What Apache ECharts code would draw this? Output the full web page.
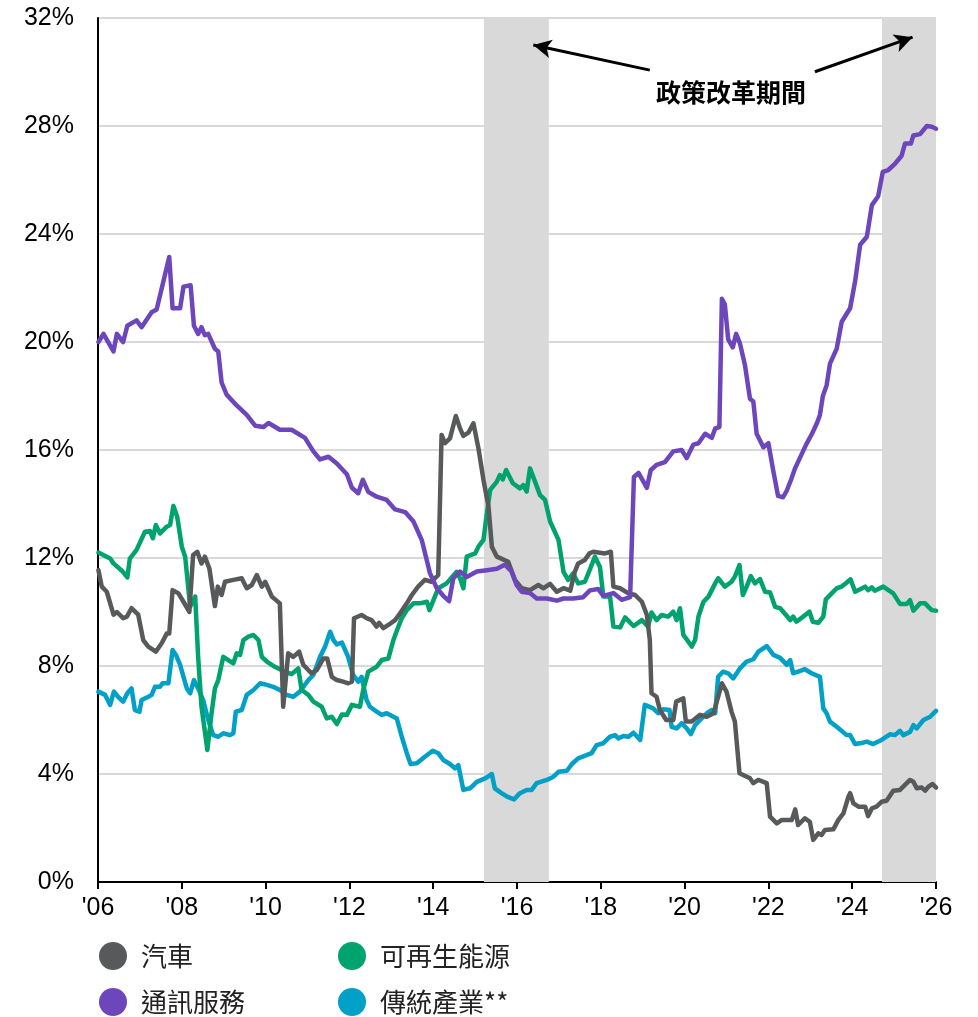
<!DOCTYPE html>
<html><head><meta charset="utf-8">
<script src="https://cdn.jsdelivr.net/npm/echarts@6/dist/echarts.min.js"></script>
<style>html,body{margin:0;padding:0;background:#fff}#c{width:978px;height:1017px}</style>
</head><body><div id="c"></div>
<script>
const seriesNames = ['汽車', '可再生能源', '通訊服務', '傳統產業**'];
const yTicks = [0, 4, 8, 12, 16, 20, 24, 28, 32];
const xTicks = [2006, 2008, 2010, 2012, 2014, 2016, 2018, 2020, 2022, 2024, 2026];
const policyPeriods = [[2015.21, 2016.76], [2024.71, 2026.0]];
const annotationText = '政策改革期間';

const autos = [[2006.01,11.55],[2006.09,10.94],[2006.21,10.75],[2006.37,9.9],[2006.45,10.0],[2006.60,9.77],[2006.69,9.83],[2006.80,10.14],[2006.96,9.9],[2007.08,8.96],[2007.20,8.72],[2007.38,8.53],[2007.52,8.84],[2007.64,9.2],[2007.70,9.2],[2007.78,10.81],[2007.92,10.69],[2008.04,10.38],[2008.18,10.0],[2008.27,12.11],[2008.37,12.23],[2008.47,11.8],[2008.55,12.05],[2008.66,11.6],[2008.79,10.22],[2008.86,10.94],[2008.95,10.63],[2009.03,11.12],[2009.23,11.19],[2009.43,11.25],[2009.55,10.88],[2009.67,11.0],[2009.79,11.37],[2009.91,10.94],[2009.99,11.12],[2010.15,10.57],[2010.34,10.32],[2010.42,6.49],[2010.54,8.47],[2010.66,8.34],[2010.80,8.53],[2010.90,8.04],[2011.02,7.85],[2011.10,7.73],[2011.22,7.85],[2011.38,8.28],[2011.47,8.28],[2011.58,7.6],[2011.70,7.48],[2011.85,7.42],[2011.97,7.36],[2012.06,7.42],[2012.11,9.77],[2012.29,9.89],[2012.41,9.77],[2012.53,9.7],[2012.65,9.46],[2012.71,9.6],[2012.81,9.4],[2012.93,9.52],[2013.09,9.7],[2013.21,9.95],[2013.37,10.32],[2013.49,10.63],[2013.64,10.94],[2013.80,11.19],[2013.96,11.12],[2014.12,11.37],[2014.16,11.31],[2014.20,16.56],[2014.28,16.25],[2014.40,16.43],[2014.54,17.26],[2014.64,16.8],[2014.72,16.52],[2014.84,16.64],[2014.96,16.99],[2015.08,16.06],[2015.20,14.89],[2015.32,13.9],[2015.40,12.42],[2015.52,12.05],[2015.79,11.86],[2015.95,11.19],[2016.11,10.88],[2016.31,10.81],[2016.51,11.0],[2016.63,10.88],[2016.79,11.04],[2016.95,10.75],[2017.11,10.88],[2017.27,10.79],[2017.38,11.49],[2017.46,11.8],[2017.62,11.93],[2017.73,12.17],[2017.82,12.23],[2018.10,12.17],[2018.24,12.23],[2018.30,10.94],[2018.46,10.88],[2018.66,10.69],[2018.82,10.63],[2018.98,10.38],[2019.10,9.89],[2019.17,8.96],[2019.21,6.99],[2019.33,6.86],[2019.41,6.37],[2019.56,6.0],[2019.73,6.0],[2019.80,6.68],[2019.97,6.8],[2020.03,5.94],[2020.17,5.94],[2020.37,6.19],[2020.53,6.12],[2020.69,6.25],[2020.89,7.36],[2021.00,7.05],[2021.12,6.31],[2021.20,5.94],[2021.31,4.03],[2021.56,3.84],[2021.64,3.66],[2021.76,3.78],[2021.96,3.66],[2022.04,2.42],[2022.20,2.17],[2022.32,2.3],[2022.56,2.3],[2022.64,2.69],[2022.71,2.11],[2022.87,2.36],[2022.99,2.23],[2023.07,1.56],[2023.19,1.8],[2023.27,1.74],[2023.35,1.93],[2023.55,1.95],[2023.67,2.3],[2023.79,2.54],[2023.91,3.16],[2023.95,3.29],[2024.03,2.91],[2024.15,2.79],[2024.31,2.79],[2024.38,2.44],[2024.47,2.73],[2024.58,2.79],[2024.70,2.97],[2024.82,3.01],[2024.98,3.38],[2025.14,3.41],[2025.38,3.78],[2025.46,3.71],[2025.54,3.47],[2025.66,3.5],[2025.74,3.38],[2025.82,3.53],[2025.92,3.63],[2026.00,3.5]];

const renewables = [[2006.01,12.2],[2006.29,11.98],[2006.37,11.8],[2006.57,11.53],[2006.70,11.28],[2006.76,11.98],[2006.92,12.3],[2007.12,12.97],[2007.24,13.0],[2007.31,12.73],[2007.38,13.22],[2007.48,12.91],[2007.64,13.16],[2007.72,13.22],[2007.80,13.93],[2007.89,13.53],[2008.00,12.42],[2008.08,12.05],[2008.20,10.19],[2008.32,10.57],[2008.39,8.34],[2008.47,6.49],[2008.61,4.89],[2008.71,6.25],[2008.79,7.17],[2008.87,7.48],[2008.99,8.34],[2009.11,8.22],[2009.23,8.1],[2009.31,8.47],[2009.39,8.41],[2009.47,8.96],[2009.59,9.09],[2009.71,9.15],[2009.83,8.96],[2009.91,8.34],[2010.03,8.16],[2010.22,7.97],[2010.46,7.79],[2010.62,7.7],[2010.78,7.91],[2010.86,7.11],[2011.02,6.93],[2011.14,6.68],[2011.34,6.49],[2011.46,6.06],[2011.58,6.12],[2011.70,5.85],[2011.82,6.2],[2011.94,6.19],[2012.06,6.56],[2012.25,6.49],[2012.33,7.11],[2012.45,7.79],[2012.65,7.97],[2012.77,8.22],[2012.93,8.28],[2013.05,8.96],[2013.17,9.46],[2013.25,9.77],[2013.37,10.07],[2013.53,10.32],[2013.68,10.32],[2013.85,10.38],[2013.91,10.07],[2014.04,10.57],[2014.12,10.88],[2014.32,11.06],[2014.56,11.49],[2014.64,11.25],[2014.72,10.88],[2014.80,12.05],[2015.00,12.17],[2015.08,12.42],[2015.20,12.67],[2015.28,13.65],[2015.36,14.52],[2015.52,14.83],[2015.59,15.07],[2015.66,14.91],[2015.74,15.26],[2015.90,14.77],[2016.07,14.58],[2016.15,14.7],[2016.23,14.46],[2016.31,15.32],[2016.43,14.83],[2016.55,14.33],[2016.67,14.15],[2016.79,13.35],[2016.99,12.67],[2017.11,11.49],[2017.22,11.19],[2017.34,11.43],[2017.46,11.06],[2017.62,11.12],[2017.72,11.5],[2017.86,12.05],[2017.98,11.67],[2018.06,10.57],[2018.22,10.57],[2018.30,9.46],[2018.46,9.43],[2018.58,9.8],[2018.78,9.48],[2018.98,9.7],[2019.13,9.46],[2019.21,9.98],[2019.33,9.7],[2019.45,9.89],[2019.61,9.83],[2019.73,10.01],[2019.81,9.7],[2019.89,10.14],[2019.97,9.15],[2020.09,8.9],[2020.17,8.72],[2020.25,8.96],[2020.33,9.83],[2020.45,10.38],[2020.57,10.57],[2020.73,11.06],[2020.80,11.25],[2020.96,10.94],[2021.12,11.12],[2021.20,11.31],[2021.31,11.74],[2021.39,10.63],[2021.48,10.94],[2021.58,11.33],[2021.68,11.06],[2021.80,11.22],[2021.92,10.75],[2022.04,10.72],[2022.16,10.19],[2022.28,10.14],[2022.44,9.85],[2022.52,9.7],[2022.59,9.83],[2022.67,9.64],[2022.83,9.83],[2022.98,10.01],[2023.06,9.64],[2023.19,9.6],[2023.31,9.83],[2023.37,10.47],[2023.51,10.69],[2023.63,10.88],[2023.75,10.94],[2023.87,11.09],[2023.96,11.21],[2024.07,10.75],[2024.19,10.84],[2024.31,10.94],[2024.38,10.81],[2024.47,10.91],[2024.54,10.79],[2024.74,10.94],[2024.98,10.69],[2025.14,10.3],[2025.30,10.3],[2025.38,10.44],[2025.46,10.05],[2025.62,10.32],[2025.74,10.32],[2025.82,10.19],[2025.90,10.07],[2026.00,10.05]];

const telecom = [[2006.01,20.0],[2006.13,20.3],[2006.37,19.65],[2006.45,20.3],[2006.60,20.0],[2006.70,20.6],[2006.92,20.8],[2007.04,20.55],[2007.28,21.1],[2007.40,21.2],[2007.70,23.15],[2007.78,21.25],[2007.96,21.25],[2008.04,22.05],[2008.21,22.1],[2008.29,20.6],[2008.39,20.3],[2008.47,20.55],[2008.55,20.25],[2008.63,20.3],[2008.79,19.75],[2008.87,19.65],[2008.95,18.5],[2009.07,18.05],[2009.31,17.65],[2009.55,17.3],[2009.75,16.9],[2009.95,16.85],[2010.07,17.0],[2010.34,16.75],[2010.62,16.75],[2010.94,16.45],[2011.14,15.95],[2011.30,15.65],[2011.50,15.75],[2011.70,15.5],[2011.94,15.1],[2012.06,14.6],[2012.21,14.4],[2012.32,14.9],[2012.45,14.45],[2012.65,14.27],[2012.89,14.15],[2013.09,13.8],[2013.33,13.7],[2013.53,13.35],[2013.73,12.65],[2013.85,11.9],[2013.92,11.45],[2014.08,10.9],[2014.24,10.6],[2014.38,10.4],[2014.48,11.25],[2014.64,11.5],[2014.80,11.3],[2015.04,11.5],[2015.28,11.55],[2015.52,11.6],[2015.71,11.75],[2015.87,11.5],[2015.99,11.0],[2016.11,10.75],[2016.31,10.7],[2016.47,10.5],[2016.71,10.5],[2016.95,10.42],[2017.11,10.5],[2017.34,10.5],[2017.58,10.55],[2017.74,10.8],[2017.94,10.85],[2018.06,10.6],[2018.30,10.7],[2018.50,10.45],[2018.70,10.55],[2018.79,15.0],[2018.90,15.15],[2019.10,14.6],[2019.19,15.25],[2019.33,15.45],[2019.53,15.55],[2019.73,15.95],[2019.93,16.0],[2020.05,15.7],[2020.21,16.2],[2020.33,16.25],[2020.49,16.6],[2020.65,16.45],[2020.73,16.8],[2020.83,16.85],[2020.89,21.6],[2020.96,21.4],[2021.04,20.1],[2021.15,19.8],[2021.23,20.3],[2021.32,19.95],[2021.44,19.15],[2021.56,17.9],[2021.64,17.8],[2021.72,16.6],[2021.88,16.1],[2022.00,16.25],[2022.12,15.2],[2022.23,14.3],[2022.35,14.25],[2022.44,14.5],[2022.54,14.9],[2022.63,15.3],[2022.75,15.7],[2022.90,16.2],[2023.04,16.6],[2023.16,17.0],[2023.23,17.3],[2023.30,18.0],[2023.39,18.4],[2023.47,19.2],[2023.63,19.75],[2023.75,20.75],[2023.95,21.25],[2024.07,22.25],[2024.19,23.6],[2024.35,23.9],[2024.47,25.07],[2024.62,25.4],[2024.73,26.3],[2024.86,26.37],[2025.02,26.6],[2025.18,26.9],[2025.26,27.35],[2025.40,27.35],[2025.46,27.65],[2025.62,27.7],[2025.78,28.0],[2025.90,27.97],[2026.00,27.9]];

const traditional = [[2006.01,7.05],[2006.17,6.93],[2006.29,6.56],[2006.38,7.05],[2006.48,6.86],[2006.60,6.68],[2006.70,6.99],[2006.80,7.17],[2006.88,6.37],[2006.99,6.31],[2007.04,6.74],[2007.20,6.86],[2007.28,6.93],[2007.36,7.23],[2007.48,7.23],[2007.54,7.36],[2007.68,7.36],[2007.78,8.59],[2007.86,8.41],[2007.96,8.04],[2008.04,7.6],[2008.12,7.17],[2008.20,6.99],[2008.29,7.48],[2008.39,7.17],[2008.51,6.74],[2008.63,6.0],[2008.75,5.44],[2008.87,5.38],[2008.99,5.51],[2009.15,5.44],[2009.23,5.51],[2009.29,6.31],[2009.43,6.37],[2009.55,6.93],[2009.71,7.11],[2009.87,7.36],[2010.03,7.3],[2010.18,7.23],[2010.34,7.11],[2010.50,6.93],[2010.66,6.86],[2010.82,7.05],[2011.02,7.48],[2011.14,7.67],[2011.30,8.34],[2011.42,8.72],[2011.54,9.27],[2011.62,8.96],[2011.70,8.8],[2011.82,8.87],[2011.97,8.34],[2012.09,7.67],[2012.21,7.42],[2012.29,7.6],[2012.41,6.74],[2012.49,6.49],[2012.65,6.31],[2012.77,6.19],[2012.89,6.25],[2013.13,6.06],[2013.25,5.38],[2013.37,4.77],[2013.46,4.37],[2013.61,4.4],[2013.80,4.64],[2013.99,4.86],[2014.12,4.77],[2014.24,4.52],[2014.40,4.37],[2014.52,4.21],[2014.60,4.33],[2014.72,3.41],[2014.88,3.47],[2015.04,3.71],[2015.24,3.84],[2015.40,4.0],[2015.47,3.47],[2015.63,3.29],[2015.79,3.14],[2015.93,3.06],[2016.07,3.29],[2016.23,3.41],[2016.35,3.41],[2016.47,3.66],[2016.71,3.78],[2016.87,3.9],[2016.99,4.08],[2017.19,4.12],[2017.31,4.37],[2017.46,4.58],[2017.78,4.77],[2017.90,5.07],[2018.06,5.14],[2018.22,5.38],[2018.34,5.44],[2018.42,5.32],[2018.54,5.41],[2018.66,5.38],[2018.78,5.53],[2018.94,5.26],[2019.05,6.56],[2019.25,6.43],[2019.37,6.25],[2019.49,6.4],[2019.64,6.37],[2019.69,5.75],[2019.81,5.69],[2019.93,5.88],[2020.05,5.69],[2020.15,5.48],[2020.25,5.81],[2020.37,6.0],[2020.53,6.25],[2020.65,6.37],[2020.73,6.25],[2020.80,7.6],[2020.92,7.79],[2021.04,7.73],[2021.16,7.54],[2021.32,7.91],[2021.48,8.16],[2021.64,8.25],[2021.76,8.53],[2021.96,8.74],[2022.12,8.41],[2022.28,8.3],[2022.44,8.04],[2022.52,8.22],[2022.59,7.73],[2022.71,7.79],[2022.87,7.88],[2023.03,7.73],[2023.23,7.6],[2023.31,6.43],[2023.39,6.25],[2023.47,5.94],[2023.63,5.75],[2023.87,5.44],[2023.95,5.44],[2024.07,5.11],[2024.26,5.16],[2024.35,5.2],[2024.50,5.11],[2024.70,5.26],[2024.90,5.47],[2025.02,5.44],[2025.14,5.6],[2025.22,5.44],[2025.38,5.56],[2025.46,5.81],[2025.54,5.69],[2025.70,6.0],[2025.86,6.12],[2026.00,6.34]];

const arrowLeft = [[2019.17, 30.07], [2016.39, 31.0]];
const arrowRight = [[2023.11, 30.01], [2025.44, 31.29]];

const colors = { '汽車': '#58595b', '可再生能源': '#00a26e', '通訊服務': '#6e46bc', '傳統產業**': '#00a0c7' };
const FONT = '"Liberation Sans", Arial, "Noto Sans CJK TC", sans-serif';
const CJK = '"Noto Sans CJK TC", sans-serif';

const chart = echarts.init(document.getElementById('c'), null, { renderer: 'canvas' });

function lineSeries(name, data, z) {
  return {
    name, type: 'line', data, z,
    showSymbol: false, symbol: 'none',
    lineStyle: { width: 4.5, color: colors[name], join: 'round', cap: 'round' },
    itemStyle: { color: colors[name] },
    animation: false
  };
}

const legendSlots = [
  { name: seriesNames[0], left: 94, top: 937 },
  { name: seriesNames[2], left: 94, top: 983 },
  { name: seriesNames[1], left: 333, top: 937 },
  { name: seriesNames[3], left: 333, top: 983 }
];

const option = {
  animation: false,
  backgroundColor: '#fff',
  grid: { left: 98, right: 42, top: 18, bottom: 135, containLabel: false },
  xAxis: {
    type: 'value', min: 2006, max: 2026, interval: 2,
    axisLine: { show: true, onZero: false, lineStyle: { color: '#000', width: 2 } },
    axisTick: { show: true, length: 7, lineStyle: { color: '#000', width: 2 } },
    splitLine: { show: false },
    axisLabel: {
      margin: 14, color: '#000', fontSize: 25, fontFamily: FONT,
      formatter: v => xTicks.includes(v) ? "'" + String(v).slice(2) : ''
    }
  },
  yAxis: {
    type: 'value', min: 0, max: 32, interval: 4,
    axisLine: { show: true, lineStyle: { color: '#000', width: 2 } },
    axisTick: { show: false },
    splitLine: { show: true, lineStyle: { color: '#d9d9d9', width: 2 } },
    axisLabel: {
      margin: 24, color: '#000', fontSize: 25, fontFamily: FONT,
      formatter: v => yTicks.includes(v) ? v + '%' : ''
    }
  },
  legend: legendSlots.map(s => ({
    data: [s.name], left: s.left, top: s.top,
    icon: 'circle', itemWidth: 28, itemHeight: 28,
    textStyle: { fontSize: 26, color: '#222', fontFamily: CJK, padding: [0, 0, 0, 9] }
  })),
  graphic: [
    {
      type: 'text', left: 656, top: 80, z: 100,
      style: { text: annotationText, font: 'bold 25px "Noto Sans CJK TC", sans-serif', fill: '#000' }
    }
  ],
  series: [
    {
      name: 'shade', type: 'line', data: [], z: 1, silent: true,
      markArea: {
        silent: true,
        itemStyle: { color: '#d9d9d9' },
        data: policyPeriods.map(p => [{ xAxis: p[0], yAxis: 0 }, { xAxis: p[1], yAxis: 32 }])
      },
      markLine: {
        silent: true, symbol: ['none', 'arrow'], symbolSize: [14, 18],
        lineStyle: { color: '#000', width: 3, type: 'solid' },
        label: { show: false },
        data: [
          [{ coord: arrowLeft[0] }, { coord: arrowLeft[1] }],
          [{ coord: arrowRight[0] }, { coord: arrowRight[1] }]
        ]
      }
    },
    lineSeries(seriesNames[3], traditional, 3),
    lineSeries(seriesNames[1], renewables, 3),
    lineSeries(seriesNames[0], autos, 3),
    lineSeries(seriesNames[2], telecom, 3)
  ]
};
chart.setOption(option);
</script>
</body></html>
